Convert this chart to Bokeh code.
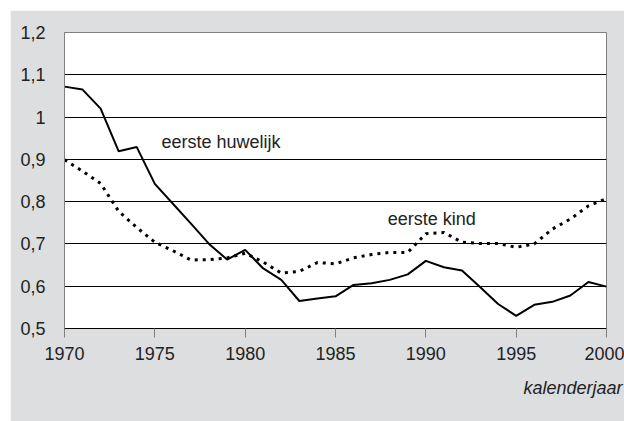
from bokeh.plotting import figure
from bokeh.models import Range1d, FixedTicker, Label, Title
from bokeh.embed import file_html
from bokeh.resources import INLINE

years = list(range(1970, 2001))
huwelijk = [1.072, 1.065, 1.020, 0.919, 0.929, 0.842, 0.795, 0.748, 0.700, 0.663,
            0.686, 0.642, 0.615, 0.565, 0.571, 0.576, 0.603, 0.607, 0.615, 0.628,
            0.660, 0.645, 0.637, 0.598, 0.558, 0.530, 0.556, 0.563, 0.578, 0.610, 0.599]
kind = [0.899, 0.872, 0.843, 0.777, 0.739, 0.704, 0.684, 0.662, 0.663, 0.667,
        0.678, 0.657, 0.631, 0.635, 0.656, 0.653, 0.667, 0.675, 0.680, 0.680,
        0.724, 0.727, 0.704, 0.701, 0.701, 0.692, 0.700, 0.735, 0.759, 0.790, 0.807]
y_ticks = [0.5, 0.6, 0.7, 0.8, 0.9, 1.0, 1.1, 1.2]
y_tick_labels = ["0,5", "0,6", "0,7", "0,8", "0,9", "1", "1,1", "1,2"]
x_ticks = [1970, 1975, 1980, 1985, 1990, 1995, 2000]
series_labels = ["eerste huwelijk", "eerste kind"]
x_title = "kalenderjaar"

FONT = "Liberation Sans"
BG = "#dddee0"
FS = "18px"

p = figure(width=614, height=411, output_backend="svg", toolbar_location=None,
           x_range=Range1d(1970, 2000), y_range=Range1d(0.5, 1.2),
           min_border_left=54, min_border_right=18, min_border_top=22, min_border_bottom=93,
           background_fill_color="white", border_fill_color=BG,
           outline_line_color="#808080", outline_line_width=1,
           margin=(10, 0, 0, 10))

p.xgrid.visible = False
p.ygrid.grid_line_color = "black"
p.ygrid.grid_line_width = 1
p.ygrid.ticker = FixedTicker(ticks=y_ticks)

p.yaxis.ticker = FixedTicker(ticks=y_ticks)
p.yaxis.major_label_overrides = {t: l for t, l in zip(y_ticks, y_tick_labels)}
p.yaxis.axis_line_color = "#808080"
p.yaxis.major_tick_line_color = None
p.yaxis.minor_tick_line_color = None
p.yaxis.major_label_standoff = 13

p.xaxis.ticker = FixedTicker(ticks=x_ticks)
p.xaxis.axis_line_color = "black"
p.xaxis.major_tick_line_color = "#808080"
p.xaxis.major_tick_out = 9
p.xaxis.major_tick_in = 0
p.xaxis.minor_tick_line_color = None
p.xaxis.major_label_standoff = 9

for ax in (p.xaxis, p.yaxis):
    ax.major_label_text_font = FONT
    ax.major_label_text_font_size = FS
    ax.major_label_text_color = "#222222"

p.add_layout(Title(text=x_title, align="right", offset=-16, standoff=26,
                   text_font=FONT, text_font_size=FS, text_font_style="italic",
                   text_color="#222222"), "below")

p.line(years, huwelijk, line_color="black", line_width=2)
p.line(years, kind, line_color="black", line_width=3, line_dash="3 5")

p.add_layout(Label(x=1975.37, y=0.941, text=series_labels[0], text_font=FONT,
                   text_font_size=FS, text_color="#222222", text_baseline="middle"))
p.add_layout(Label(x=1987.89, y=0.759, text=series_labels[1], text_font=FONT,
                   text_font_size=FS, text_color="#222222", text_baseline="middle"))

open("out.html", "w").write(file_html(p, INLINE))
